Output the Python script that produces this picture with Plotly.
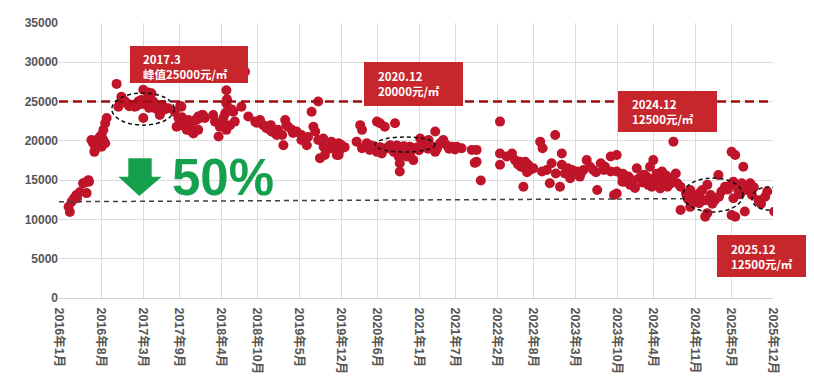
import plotly.graph_objects as go

# months since 2016-01 (x) and price in 元/㎡ (y)
month_x = [
    1.6, 1.8, 2.1, 2.5, 2.9, 3.0, 3.5, 4.0, 4.6, 4.9, 5.0, 4.4,
    5.4, 5.7, 5.9, 6.0, 6.3, 6.55, 7.1, 7.1, 7.4, 7.4, 7.7, 7.7, 7.95, 6.8, 6.0,
    9.6, 9.9, 10.4, 10.9, 11.3, 12.1, 12.6, 13.2, 13.7, 14.05, 14.05, 14.3, 14.9, 14.9,
    15.2, 15.4, 15.7, 16.0, 16.5, 16.8, 16.8, 17.2, 18.2, 17.6, 15.0, 13.9, 12.9, 11.7, 20.2,
    19.3, 19.9, 19.6, 20.4, 20.4, 20.5, 21.3, 21.6, 22.1, 22.4, 22.7, 22.9, 23.2, 23.2,
    23.5, 23.8, 24.0, 24.3, 21.0, 22.0,
    25.7, 26.0, 26.6, 26.8, 27.4, 27.7, 27.9, 27.9, 27.9, 28.2, 28.5, 29.05, 29.3, 30.4,
    31.0, 28.0, 27.2, 28.8,
    31.55, 32.7, 33.5, 34.05, 34.6, 35.3, 35.4, 36.3, 36.5, 37.2, 37.4, 37.7, 37.9, 38.8,
    39.6, 40.4, 40.4, 41.3, 41.5, 42.1, 42.4, 42.7, 43.2, 43.2, 43.5, 44.05, 44.1, 44.3,
    45.0, 45.4, 46.0, 46.6, 46.8, 33.0, 36.0, 39.0, 38.2,
    46.3, 46.6, 46.8, 47.0, 47.6,
    49.6, 50.2, 50.5, 50.5, 51.3, 51.8, 52.5, 53.0, 53.0, 53.5, 53.8, 54.3, 54.6, 55.2,
    55.8, 56.0, 56.0, 56.6, 56.8, 56.8, 56.8, 57.3, 57.7, 57.95, 58.5, 58.5, 59.05, 59.3,
    60.0, 60.2, 61.0, 61.6, 62.0, 62.7, 62.7, 63.5, 64.05, 64.6, 65.0, 65.5, 66.3, 67.1,
    68.8, 69.3, 70.3, 54.0, 55.5, 52.0, 61.5, 63.0, 66.0, 53.5, 55.0, 56.3, 57.5, 59.8,
    69.6, 69.6, 73.5, 73.5, 73.5, 74.6, 75.5, 76.0, 76.8, 77.0, 77.4, 77.7, 78.2, 78.5,
    79.05, 76.5, 77.5, 78.0,
    80.2, 80.5, 80.6, 81.3, 81.8, 82.1, 82.7, 82.8, 83.5, 83.8, 83.8, 84.3, 85.2, 85.5,
    86.3, 86.8, 87.4, 87.95, 88.5, 89.05, 89.7, 90.3, 90.8, 91.95, 91.95, 92.5, 93.9, 93.9,
    84.8, 87.0, 89.5, 91.0,
    92.95, 92.95, 92.95, 94.3, 94.9, 95.2, 95.7, 96.3, 97.7, 98.2, 98.5, 98.8, 99.05, 99.3,
    99.9, 100.2, 100.5, 101.0, 101.4, 102.0, 102.4, 102.8, 103.05, 103.6, 103.6, 96.8, 97.2,
    100.8, 101.8, 96.0, 94.0, 99.6, 98.0, 99.0, 100.0, 101.2, 102.3, 97.5,
    104.5, 105.2, 105.2, 105.6, 106.1, 106.4, 106.7, 107.2, 107.7, 107.7, 108.05, 108.05,
    108.6, 109.3, 109.9, 110.4, 111.0, 105.8, 106.8, 108.9, 110.0, 104.8,
    112.0, 112.1, 112.1, 112.4, 112.4, 112.7, 112.7, 113.2, 113.8, 114.05, 114.3, 114.6,
    115.2, 115.5, 116.6, 117.0, 117.7, 118.05, 119.2, 113.5, 115.8, 111.5,
]
price_y = [
    11600, 10950, 12250, 12700, 13100, 12700, 13500, 14600, 13350, 15000, 14800, 14700,
    20100, 19700, 18600, 18850, 20100, 19450, 19250, 20750, 21400, 20100, 19700, 22250, 22900, 20500, 19900,
    27250, 24350, 25600, 25100, 24800, 24550, 24350, 25000, 25200, 26500, 22900, 25000, 25850, 26150,
    24550, 26050, 25000, 24150, 24350, 23500, 23300, 24550, 24150, 24000, 24200, 24700, 24400, 24400, 24450,
    23700, 22900, 21800, 22000, 24350, 23000, 21400, 22650, 21200, 20950, 22650, 22650, 23100, 21400,
    22900, 23300, 23300, 22900, 22200, 22200,
    23300, 22450, 20550, 21800, 22900, 23500, 26450, 24800, 21400, 24150, 22000, 23700, 22450, 24350,
    28800, 25300, 22000, 24000,
    23100, 22450, 22650, 22000, 21600, 22000, 21200, 20750, 21400, 20750, 19450, 22650, 22000, 21400,
    21200, 20750, 20100, 19450, 20500, 23700, 21800, 21200, 25000, 20100, 17800, 20300, 19250, 18200,
    19000, 19900, 18900, 18200, 19250, 22300, 21000, 21000, 21800,
    18200, 19700, 18850, 19500, 19200,
    19900, 22000, 21400, 19050, 19700, 18850, 19300, 22450, 18600, 22250, 18400, 21800, 19050, 19450,
    18600, 22250, 19050, 18000, 19250, 17150, 16100, 18800, 19050, 18000, 19250, 18200, 17550, 19050,
    18800, 20300, 19700, 20100, 19300, 21200, 18600, 19700, 20100, 19450, 19000, 19250, 19250, 19050,
    18850, 17200, 14950, 19000, 18900, 19400, 19000, 19000, 18900, 19200, 19300, 19400, 19300, 19200,
    18850, 17350, 22450, 18400, 16950, 18000, 18400, 17550, 17350, 16700, 14150, 17350, 16950, 16300,
    16500, 17000, 16600, 16000,
    19900, 16100, 19050, 16300, 14600, 17150, 20750, 15850, 14150, 18400, 16950, 15850, 15250, 16300,
    16100, 15450, 16300, 17550, 16700, 16300, 13750, 17150, 16300, 18000, 16100, 13100, 15450, 14800,
    16500, 15900, 16000, 16700,
    18200, 16100, 13300, 14800, 15450, 14400, 15000, 16500, 15000, 14400, 16700, 14150, 17550, 15250,
    14600, 13950, 16100, 14800, 14150, 15250, 19900, 15850, 14600, 14150, 11200, 15300, 14700,
    15500, 14500, 14000, 15800, 15800, 15400, 14900, 15200, 15600, 14900, 15700,
    13300, 13750, 11600, 13100, 12250, 12900, 12050, 13750, 12450, 10350, 14400, 10800,
    13100, 12450, 15650, 13550, 14150, 12400, 13400, 12000, 12900, 12600,
    14400, 18600, 10550, 14800, 12700, 18200, 10350, 13750, 14600, 16700, 11000, 13750,
    14600, 13100, 12450, 12000, 12900, 13550, 11000, 13200, 14100, 13800,
]

tick_months = [0, 7, 14, 20, 27, 33, 40, 47, 53, 60, 66, 73, 79, 86, 93, 99, 106, 112, 119]
tick_labels = ["2016年1月", "2016年8月", "2017年3月", "2017年9月", "2018年4月", "2018年10月",
               "2019年5月", "2019年12月", "2020年6月", "2021年1月", "2021年7月", "2022年2月",
               "2022年8月", "2023年3月", "2023年10月", "2024年4月", "2024年11月", "2025年5月",
               "2025年12月"]

peak_level = 25000
low_level_start = 12250
low_level_end = 12650

callout_dates = ["2017.3", "2020.12", "2024.12", "2025.12"]
callout_values = ["峰值25000元/㎡", "20000元/㎡", "12500元/㎡", "12500元/㎡"]

# page body has an 8px margin: figure is drawn from (8, 8)
OFF = 8
W, H = 814 - OFF, 390 - OFF
L, R, T, B = 59, 773, 23, 298   # plot area in screenshot pixels


def px(x):
    return (x - L) / (R - L)


def py(y):
    return (B - y) / (B - T)


FONT = "Arial, 'Liberation Sans', 'Noto Sans CJK SC', sans-serif"

fig = go.Figure()
fig.add_trace(go.Scatter(
    x=month_x, y=price_y, mode="markers",
    marker=dict(size=10, color="#BF1429", line=dict(width=0)),
    hoverinfo="x+y", showlegend=False,
))

shapes = []
shapes.append(dict(type="line", xref="x", yref="y", x0=0, x1=118.8, y0=peak_level, y1=peak_level,
                   line=dict(color="#9E0B0F", width=2.5, dash="9px,5px")))
shapes.append(dict(type="line", xref="x", yref="y", x0=0, x1=104, y0=low_level_start, y1=low_level_end,
                   line=dict(color="#404040", width=1.5, dash="5px,4px")))
for (x0, x1, y0, y1) in [(8.8, 19.2, 22000, 26100), (52.7, 62.7, 18580, 20490),
                         (104, 114, 10950, 15270), (115.5, 121, 11200, 14130)]:
    shapes.append(dict(type="circle", xref="x", yref="y", x0=x0, x1=x1, y0=y0, y1=y1,
                       line=dict(color="#111111", width=1.5, dash="4px,3px")))
boxes = [(130, 248, 46, 83), (364, 463, 62, 106), (618, 717, 91, 132), (717, 808, 235, 277)]
for (x0, x1, y0, y1) in boxes:
    shapes.append(dict(type="rect", xref="paper", yref="paper",
                       x0=px(x0), x1=px(x1), y0=py(y1), y1=py(y0),
                       fillcolor="#C8262D", line=dict(width=0), layer="above"))
pts = [(128.3, 158.3), (151.7, 158.3), (151.7, 176.7), (161.7, 176.7), (139.3, 196),
       (118.3, 176.7), (128.3, 176.7)]
path = "M " + " L ".join(f"{px(a):.5f},{py(b):.5f}" for a, b in pts) + " Z"
shapes.append(dict(type="path", xref="paper", yref="paper", path=path,
                   fillcolor="#14A04C", line=dict(width=0)))

annotations = []
text_pos = [(141, 59, 74), (376, 76, 91), (630, 104, 119), (729, 249, 264)]
box_font = dict(family="'Noto Sans CJK SC', sans-serif", size=11.5, color="white", weight="bold")
for (tx, ty1, ty2), d, v in zip(text_pos, callout_dates, callout_values):
    annotations.append(dict(xref="paper", yref="paper", x=px(tx), y=py(ty1), xanchor="left",
                            yanchor="middle", showarrow=False, text=d, font=box_font))
    annotations.append(dict(xref="paper", yref="paper", x=px(tx), y=py(ty2), xanchor="left",
                            yanchor="middle", showarrow=False, text=v, font=box_font))
annotations.append(dict(xref="paper", yref="paper", x=px(170), y=py(177), xanchor="left",
                        yanchor="middle", showarrow=False, text="50%",
                        font=dict(family=FONT, size=51, color="#14A04C", weight="bold")))

fig.update_layout(
    width=W, height=H,
    margin=dict(l=L - OFF, r=W - (R - OFF), t=T - OFF, b=H - (B - OFF), autoexpand=False),
    paper_bgcolor="white", plot_bgcolor="white",
    shapes=shapes, annotations=annotations,
    xaxis=dict(range=[0, 119], tickmode="array", tickvals=tick_months, ticktext=tick_labels,
               tickangle=90, showgrid=True, gridcolor="#DCDCDC", gridwidth=1,
               showline=True, linecolor="#D0D0D0", zeroline=False, ticks="",
               ticklabelstandoff=6,
               tickfont=dict(family=FONT, size=12.5, color="#555555", weight="bold")),
    yaxis=dict(range=[0, 35000], dtick=5000, tickformat="d", showgrid=True,
               gridcolor="#DCDCDC", gridwidth=1, zeroline=False, showline=False, ticks="",
               tickfont=dict(family=FONT, size=12, color="#555555", weight="bold")),
)

fig.write_html("out.html")
